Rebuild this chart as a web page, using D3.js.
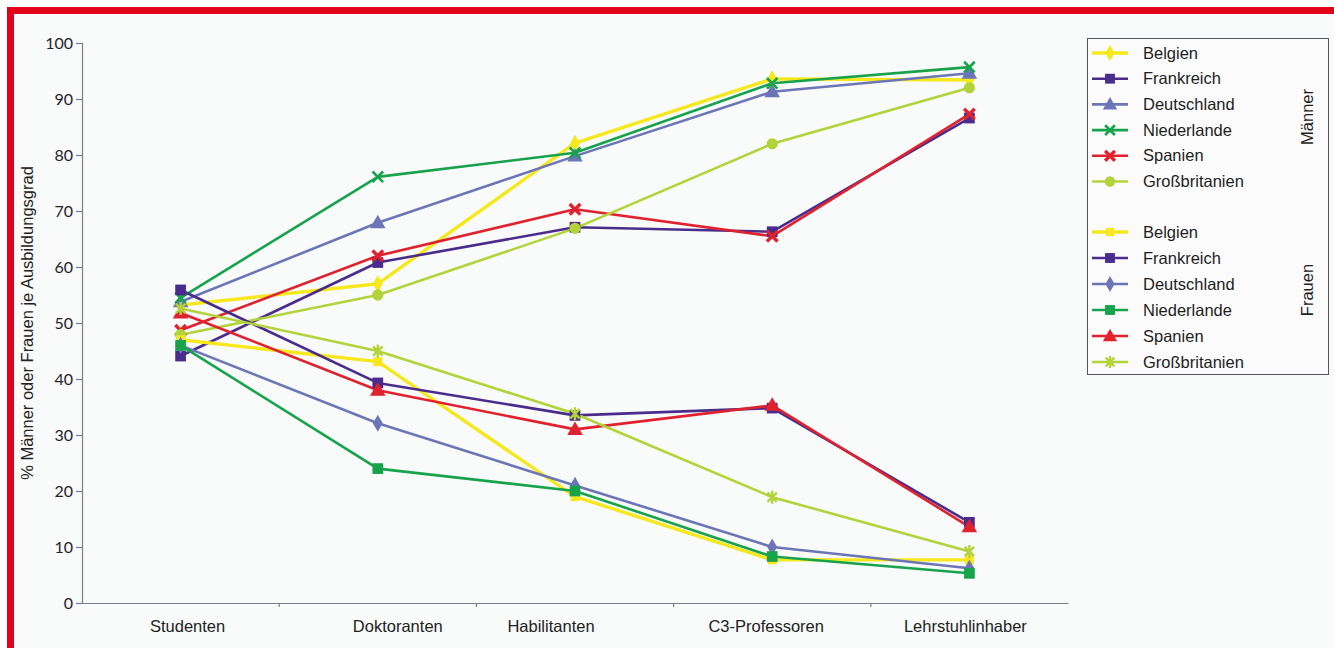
<!DOCTYPE html>
<html>
<head>
<meta charset="utf-8">
<script src="https://cdn.jsdelivr.net/npm/d3@7"></script>
<style>
  html, body { margin: 0; padding: 0; background: #ffffff; }
  svg { display: block; }
</style>
</head>
<body>
<svg id="chart" width="1334" height="648"></svg>
<script>
// ---------------- DATA ----------------
const categories = ["Studenten", "Doktoranten", "Habilitanten", "C3-Professoren", "Lehrstuhlinhaber"];
const countries = ["Belgien", "Frankreich", "Deutschland", "Niederlande", "Spanien", "Großbritanien"];
const yTicks = [0, 10, 20, 30, 40, 50, 60, 70, 80, 90, 100];
const yTitle = "% Männer oder Frauen je Ausbildungsgrad";
const groupLabels = ["Männer", "Frauen"];

// Männer
const menBelgien      = [53.2, 57.0, 82.1, 93.6, 93.4];
const menFrankreich   = [44.1, 60.8, 67.1, 66.3, 86.6];
const menDeutschland  = [53.8, 67.9, 79.8, 91.3, 94.6];
const menNiederlande  = [54.5, 76.1, 80.4, 92.8, 95.7];
const menSpanien      = [48.7, 62.0, 70.3, 65.5, 87.3];
const menGB           = [47.9, 55.0, 66.9, 82.0, 92.0];

// Frauen
const womenBelgien     = [47.0, 43.1, 19.0, 7.7, 7.7];
const womenFrankreich  = [55.9, 39.3, 33.5, 34.8, 14.4];
const womenDeutschland = [46.0, 32.1, 21.0, 10.0, 6.2];
const womenNiederlande = [46.0, 24.0, 20.0, 8.3, 5.3];
const womenSpanien     = [51.8, 38.0, 31.0, 35.3, 13.6];
const womenGB          = [52.6, 45.0, 33.8, 18.9, 9.2];

// ---------------- STYLE ----------------
const colors = {
  "Belgien": "#f6e81c",
  "Frankreich": "#4a2c8c",
  "Deutschland": "#6c76b6",
  "Niederlande": "#17a24c",
  "Spanien": "#e0222f",
  "Großbritanien": "#b3d33a"
};
const menMarkers = ["diamond", "square", "triangle", "x", "xbold", "circle"];
const womenMarkers = ["smallsquare", "square", "diamond", "square", "triangle", "asterisk"];

const series = [
  ...[menBelgien, menFrankreich, menDeutschland, menNiederlande, menSpanien, menGB].map((v, i) =>
    ({ group: 0, name: countries[i], values: v, marker: menMarkers[i] })),
  ...[womenBelgien, womenFrankreich, womenDeutschland, womenNiederlande, womenSpanien, womenGB].map((v, i) =>
    ({ group: 1, name: countries[i], values: v, marker: womenMarkers[i] }))
];

const svg = d3.select("#chart");
const W = 1334, H = 648;

// background + red frame
svg.append("rect").attr("x", 0).attr("y", 0).attr("width", W).attr("height", H).attr("fill", "#ffffff");
svg.append("rect").attr("x", 14).attr("y", 14).attr("width", W - 14).attr("height", H - 14).attr("fill", "#f9fafa");
svg.append("rect").attr("x", 7).attr("y", 7).attr("width", W - 7).attr("height", 7).attr("fill", "#e2001a");
svg.append("rect").attr("x", 7).attr("y", 7).attr("width", 7).attr("height", H - 7).attr("fill", "#e2001a");

const plot = { left: 82, right: 1068, top: 43, bottom: 603 };

const x = d3.scalePoint().domain(categories).range([plot.left, plot.right]).padding(0.5);
const xBand = d3.scaleBand().domain(categories).range([plot.left, plot.right]).padding(0);
const y = d3.scaleLinear().domain([0, 100]).range([plot.bottom, plot.top]);

const axisColor = "#7d7d86";

// Y axis
const yAxisG = svg.append("g").attr("transform", `translate(${plot.left},0)`)
  .call(d3.axisLeft(y).tickValues(yTicks).tickSize(6).tickPadding(3).tickFormat(d3.format("d")));
yAxisG.select(".domain").attr("stroke", axisColor).attr("stroke-width", 1.2);
yAxisG.selectAll(".tick line").attr("stroke", axisColor).attr("stroke-width", 1.2);
yAxisG.selectAll(".tick text")
  .attr("font-family", "Lato, 'Open Sans', sans-serif")
  .attr("font-size", 16)
  .attr("fill", "#23232c");

// X axis (ticks at band boundaries)
const xAxisG = svg.append("g").attr("transform", `translate(0,${plot.bottom})`)
  .call(d3.axisBottom(xBand).tickValues([]).tickSizeOuter(0));
xAxisG.select(".domain").attr("stroke", axisColor).attr("stroke-width", 1.2);
xAxisG.selectAll(".btick").data(categories.slice(1)).enter().append("line")
  .attr("class", "btick")
  .attr("x1", d => xBand(d)).attr("x2", d => xBand(d))
  .attr("y1", 0).attr("y2", 4)
  .attr("stroke", axisColor).attr("stroke-width", 1.2);

const labelShift = [7, 20, -24, -6, -4];
svg.append("g").selectAll("text").data(categories).enter().append("text")
  .attr("x", (d, i) => x(d) + labelShift[i])
  .attr("y", 632)
  .attr("text-anchor", "middle")
  .attr("font-family", "'Liberation Sans', Arial, sans-serif")
  .attr("font-size", 16.5)
  .attr("fill", "#222")
  .text(d => d);

// Y title
svg.append("text")
  .attr("transform", `translate(33,${(plot.top + plot.bottom) / 2}) rotate(-90)`)
  .attr("text-anchor", "middle")
  .attr("font-family", "'Liberation Sans', Arial, sans-serif")
  .attr("font-size", 16.5)
  .attr("fill", "#222")
  .text(yTitle);

// ---------------- MARKERS ----------------
function drawMarker(g, type, color, cx, cy, s) {
  s = s || 1;
  if (type === "diamond") {
    g.append("path").attr("d", d3.symbol(d3.symbolDiamond, 85 * s)()).attr("transform", `translate(${cx},${cy})`).attr("fill", color);
  } else if (type === "square") {
    g.append("path").attr("d", d3.symbol(d3.symbolSquare, 115 * s)()).attr("transform", `translate(${cx},${cy})`).attr("fill", color);
  } else if (type === "smallsquare") {
    g.append("path").attr("d", d3.symbol(d3.symbolSquare, 80 * s)()).attr("transform", `translate(${cx},${cy})`).attr("fill", color);
  } else if (type === "triangle") {
    g.append("path").attr("d", d3.symbol(d3.symbolTriangle, 105 * s)()).attr("transform", `translate(${cx},${cy + 1})`).attr("fill", color);
  } else if (type === "circle") {
    g.append("path").attr("d", d3.symbol(d3.symbolCircle, 100 * s)()).attr("transform", `translate(${cx},${cy})`).attr("fill", color);
  } else if (type === "x" || type === "xbold") {
    const r = 5.3 * Math.sqrt(s);
    const sw = type === "xbold" ? 3.4 : 2.6;
    g.append("path").attr("d", `M${cx - r},${cy - r}L${cx + r},${cy + r}M${cx - r},${cy + r}L${cx + r},${cy - r}`)
      .attr("stroke", color).attr("stroke-width", sw).attr("fill", "none");
  } else if (type === "asterisk") {
    const r = 6.5 * Math.sqrt(s);
    const d = r * 0.72;
    g.append("path").attr("d",
      `M${cx - d},${cy - d}L${cx + d},${cy + d}M${cx - d},${cy + d}L${cx + d},${cy - d}M${cx},${cy - r}L${cx},${cy + r}`)
      .attr("stroke", color).attr("stroke-width", 2.4).attr("fill", "none");
  }
}

// ---------------- LINES ----------------
const line = d3.line().x((d, i) => x(categories[i])).y(d => y(d));
const linesG = svg.append("g");
series.forEach(s => {
  linesG.append("path")
    .attr("d", line(s.values))
    .attr("fill", "none")
    .attr("stroke", colors[s.name])
    .attr("stroke-width", s.name === "Belgien" ? 3.4 : 2.6)
    .attr("stroke-linejoin", "round");
});
const markG = svg.append("g");
series.forEach(s => {
  s.values.forEach((v, i) => drawMarker(markG, s.marker, colors[s.name], x(categories[i]), y(v)));
});

// ---------------- LEGEND ----------------
const leg = svg.append("g");
leg.append("rect").attr("x", 1087.5).attr("y", 38.5).attr("width", 241).attr("height", 336)
  .attr("fill", "#fbfbfb").attr("stroke", "#55555f").attr("stroke-width", 1);

const rowY = (g, i) => g === 0 ? 53 + i * 25.7 : 232 + i * 26;
series.forEach((s, k) => {
  const i = k % 6;
  const yy = rowY(s.group, i);
  leg.append("line").attr("x1", 1092).attr("x2", 1128).attr("y1", yy).attr("y2", yy)
    .attr("stroke", colors[s.name]).attr("stroke-width", s.name === "Belgien" ? 3.4 : 2.6);
  drawMarker(leg, s.marker, colors[s.name], 1110, yy, 0.85);
  leg.append("text").attr("x", 1143).attr("y", yy + 5.5)
    .attr("font-family", "'Liberation Sans', Arial, sans-serif")
    .attr("font-size", 16.5)
    .attr("fill", "#1e1e1e")
    .text(s.name);
});
[117, 290].forEach((cy, g) => {
  leg.append("text")
    .attr("transform", `translate(1313,${cy}) rotate(-90)`)
    .attr("text-anchor", "middle")
    .attr("font-family", "'Liberation Sans', Arial, sans-serif")
    .attr("font-size", 16.5)
    .attr("fill", "#1e1e1e")
    .text(groupLabels[g]);
});
</script>
</body>
</html>
